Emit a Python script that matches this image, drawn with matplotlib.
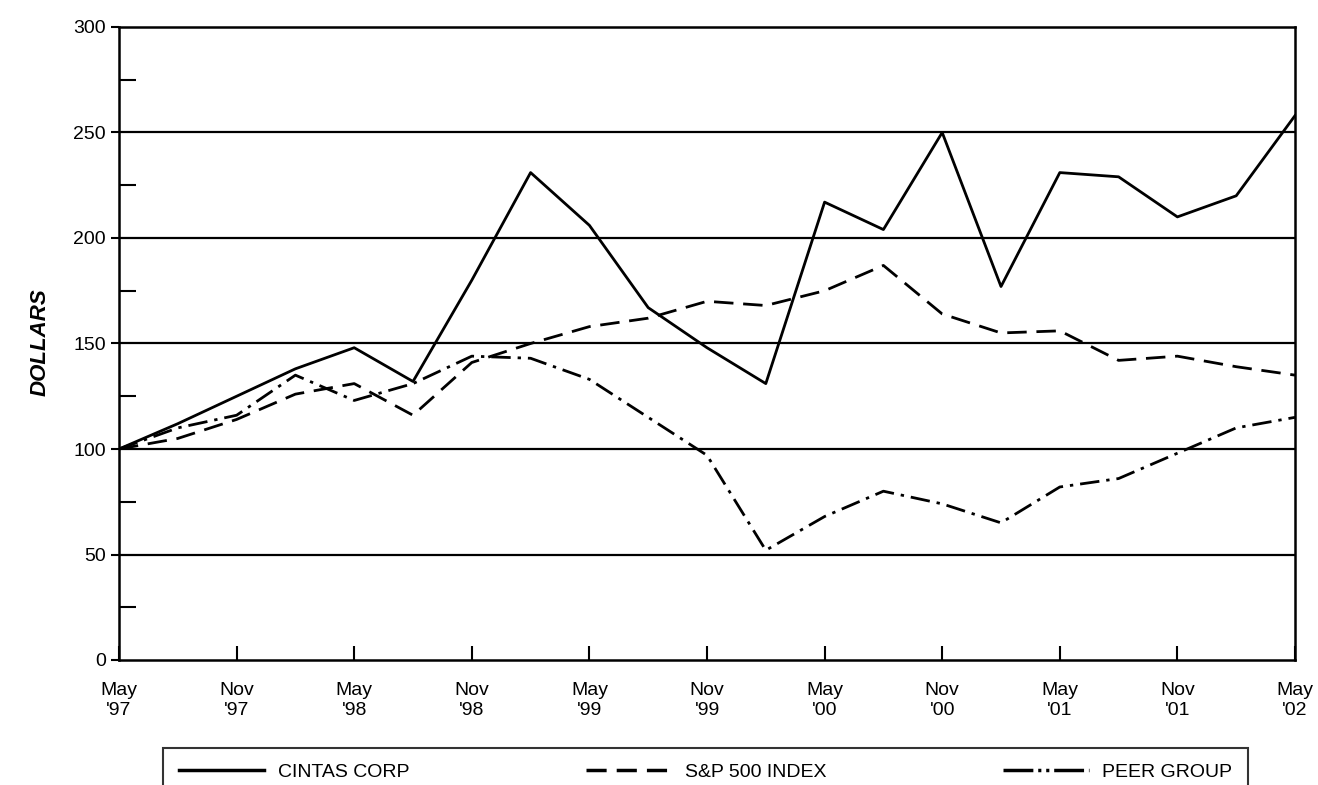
import matplotlib
matplotlib.use("Agg")
import matplotlib.pyplot as plt
from matplotlib.ticker import MultipleLocator

plt.rcParams['font.family'] = ['Liberation Sans', 'DejaVu Sans']

# quarterly index values, May '97 .. May '02
quarters = list(range(21))
tick_labels = ["May\n'97", "Nov\n'97", "May\n'98", "Nov\n'98", "May\n'99", "Nov\n'99",
               "May\n'00", "Nov\n'00", "May\n'01", "Nov\n'01", "May\n'02"]

cintas = [100, 112, 125, 138, 148, 132, 180, 231, 206, 167, 148,
          131, 217, 204, 250, 177, 231, 229, 210, 220, 258]
sp500 = [100, 105, 114, 126, 131, 116, 141, 150, 158, 162, 170,
         168, 175, 187, 164, 155, 156, 142, 144, 139, 135]
peer = [100, 110, 116, 135, 123, 131, 144, 143, 133, 115, 97,
        52, 68, 80, 74, 65, 82, 86, 98, 110, 115]

fig = plt.figure(figsize=(13.18, 7.85), dpi=100)
ax = fig.add_axes([119 / 1318, 1 - 660 / 785, (1295 - 119) / 1318, (660 - 27) / 785])

lw = 2.0
ax.plot(quarters, cintas, color='black', lw=lw, label='CINTAS CORP')
ax.plot(quarters, sp500, color='black', lw=lw, dashes=(7, 3.5), label='S&P 500 INDEX')
ax.plot(quarters, peer, color='black', lw=lw, dashes=(7, 2.5, 1.2, 2.5), label='PEER GROUP')

ax.set_xlim(0, 20)
ax.set_ylim(0, 300)
for v in range(50, 300, 50):
    ax.axhline(v, color='black', lw=1.6, zorder=0)

ax.set_xticks(range(0, 21, 2))
ax.set_xticklabels(tick_labels, fontsize=14, linespacing=1.2)
ax.tick_params(axis='x', direction='in', length=10, width=1.5, pad=16)
ax.yaxis.set_major_locator(MultipleLocator(50))
ax.yaxis.set_minor_locator(MultipleLocator(25))
ax.tick_params(axis='y', which='major', direction='out', length=6, width=1.5, labelsize=14)
ax.tick_params(axis='y', which='minor', direction='in', length=12, width=1.5)
for s in ax.spines.values():
    s.set_linewidth(1.8)

fig.text(40 / 1318, 1 - 342 / 785, 'DOLLARS', rotation=90, fontsize=16, fontweight='bold',
         fontstyle='italic', ha='center', va='center')

labels = ['CINTAS CORP', 'S&P 500 INDEX', 'PEER GROUP']
handles = [plt.Line2D([], [], color='black', lw=2.5),
           plt.Line2D([], [], color='black', lw=2.5, dashes=(5.8, 2.9)),
           plt.Line2D([], [], color='black', lw=2.5, dashes=(8.6, 1.4, 0.9, 1.4, 0.9, 1.4))]
leg = fig.legend(handles, labels, loc='upper left',
                 bbox_to_anchor=(163 / 1318, -0.2, 1085 / 1318, 0.2 + 37 / 785),
                 mode='expand', ncol=3, frameon=True, fancybox=False, edgecolor='black',
                 fontsize=14, handlelength=4.4, handletextpad=0.7, borderpad=0.8,
                 borderaxespad=0)
leg.get_frame().set_linewidth(1.5)

fig.savefig('out.png', dpi=100)
